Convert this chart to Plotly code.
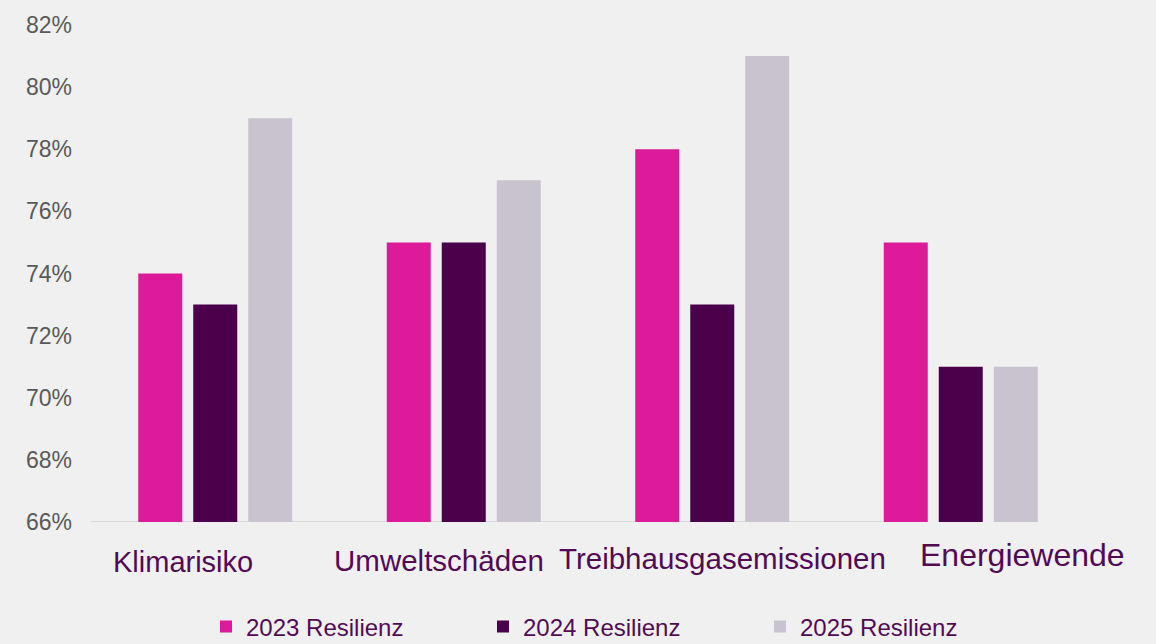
import plotly.graph_objects as go

categories = ["Klimarisiko", "Umweltschäden", "Treibhausgasemissionen", "Energiewende"]
series_names = ["2023 Resilienz", "2024 Resilienz", "2025 Resilienz"]
values_2023 = [0.74, 0.75, 0.78, 0.75]
values_2024 = [0.73, 0.75, 0.73, 0.71]
values_2025 = [0.79, 0.77, 0.81, 0.71]
y_ticks = [0.66, 0.68, 0.70, 0.72, 0.74, 0.76, 0.78, 0.80, 0.82]

colors = ["#dc1a9a", "#4b004b", "#c8c3cf"]
label_color = "#520a55"
bg = "#f0f0f0"

# label offsets (px) and sizes as placed in the original slide
label_dx = [-32, -25, 10, 62]
label_dy = [-40, -38, -36, -33]
label_size = [29, 29.5, 29.5, 32]

fig = go.Figure()
for name, vals, c in zip(series_names, [values_2023, values_2024, values_2025], colors):
    fig.add_trace(go.Bar(x=categories, y=vals, name=name, marker_color=c,
                         marker_line_width=0))

for cat, dx, dy, fs in zip(categories, label_dx, label_dy, label_size):
    fig.add_annotation(x=cat, y=0, xref="x", yref="paper", text=cat,
                       showarrow=False, xshift=dx, yshift=dy,
                       xanchor="center", yanchor="middle",
                       font=dict(family="Liberation Sans, Arial", size=fs, color=label_color))

# baseline only runs part way, as in the slide
fig.add_shape(type="line", xref="paper", yref="y", x0=0, x1=0.834, y0=0.66, y1=0.66,
              line=dict(color="#d9d9d9", width=2), layer="below")

fig.update_layout(
    width=1156, height=644,
    paper_bgcolor=bg, plot_bgcolor=bg,
    margin=dict(l=91, r=71, t=18, b=122),
    barmode="group", bargap=0.336, bargroupgap=0.2,
    font=dict(family="Liberation Sans, Arial", color="#595959"),
    showlegend=True,
    legend=dict(orientation="h", xref="container", yref="container",
                x=206 / 1156, y=17 / 644, xanchor="left", yanchor="middle",
                entrywidth=232, entrywidthmode="pixels", itemwidth=30,
                font=dict(size=24, color=label_color), bgcolor="rgba(0,0,0,0)"),
)
fig.update_xaxes(showticklabels=False, showline=False, showgrid=False, zeroline=False,
                 range=[-0.5, 3.5])
fig.update_yaxes(range=[0.66, 0.82], tickvals=y_ticks, tickformat=".0%",
                 showgrid=False, zeroline=False, showline=False,
                 ticklabelstandoff=18, tickfont=dict(size=23, color="#595959"))

fig.write_html("out.html", config={"displayModeBar": False},
               post_script="document.body.style.margin='0';")
